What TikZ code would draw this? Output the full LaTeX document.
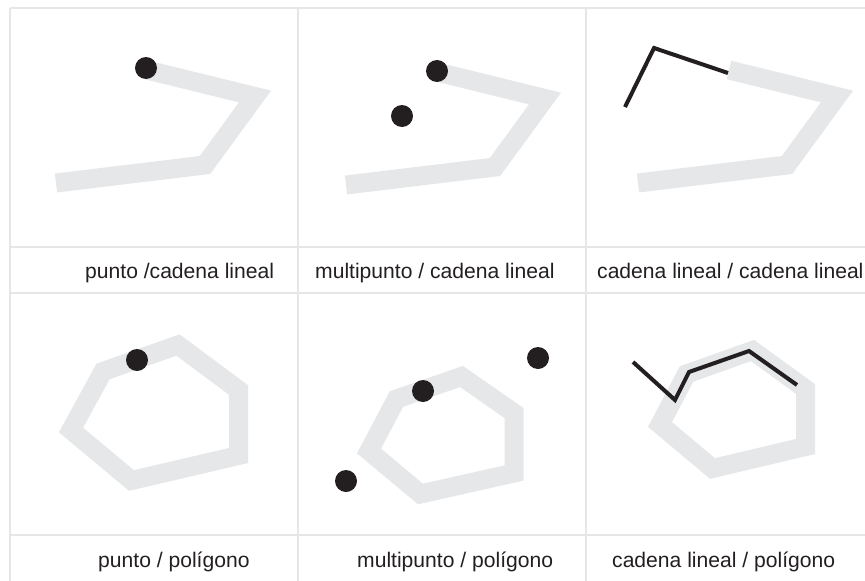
\documentclass[tikz,border=0pt]{standalone}
\usepackage{fontspec}
\setmainfont{Liberation Sans}
\definecolor{gridc}{HTML}{E6E6E6}
\definecolor{bandc}{HTML}{E6E7E8}
\definecolor{inkc}{HTML}{231F20}
\begin{document}
\begin{tikzpicture}[x=1pt,y=-1pt,
  gridline/.style={draw=gridc,line width=2.5pt},
  band/.style={draw=bandc,line width=19pt,miter limit=10,line join=miter},
  blackline/.style={draw=inkc,line width=4pt,line join=miter},
  dot/.style={circle,fill=inkc,inner sep=0pt,minimum size=22pt},
  lbl/.style={anchor=base west,inner sep=0pt,text=inkc,font=\fontsize{21.1}{25}\selectfont}]
\useasboundingbox (0,0) rectangle (865,581);
\fill[white] (0,0) rectangle (865,581);
% grid
\draw[gridline] (10,8) -- (865,8);
\draw[gridline] (10,247) -- (865,247);
\draw[gridline] (10,293) -- (865,293);
\draw[gridline] (10,535) -- (865,535);
\draw[gridline] (10,8) -- (10,581);
\draw[gridline] (298,8) -- (298,581);
\draw[gridline] (586,8) -- (586,581);
% panel 1
\draw[band] (147,70) -- (255,96.5) -- (205,165) -- (56,183);
\node[dot] (p1) at (146,68) {};
% panel 2
\draw[band] (437,72) -- (545,98.5) -- (495,167) -- (346,185);
\node[dot] (m1) at (437,71) {};
\node[dot] (m2) at (402,116) {};
% panel 3
\draw[band] (729,70) -- (837,96.5) -- (787,165) -- (638,183);
\coordinate (c1) at (625,107);
\coordinate (c2) at (654,48);
\coordinate (c3) at (728,73);
\draw[blackline] (c1) -- (c2) -- (c3);
% panel 4
\draw[band] (103,371.5) -- (178,345) -- (238.5,390) -- (238.5,455.5) -- (131.5,480.5) -- (71,430) -- cycle;
\node[dot] (p2) at (137,360) {};
% panel 5
\draw[band] (396.5,399) -- (461.5,376.5) -- (514,413) -- (514,473) -- (420.5,494) -- (369,451) -- cycle;
\node[dot] (m3) at (423,391) {};
\node[dot] (m4) at (538,358) {};
\node[dot] (m5) at (346,481) {};
% panel 6
\draw[band] (686.5,374) -- (752.5,350.5) -- (805.5,389) -- (805.5,446.5) -- (712.5,468.5) -- (660,424.5) -- cycle;
\coordinate (e1) at (633,362);
\coordinate (e2) at (675,400);
\coordinate (e3) at (689,372);
\coordinate (e4) at (749,351);
\coordinate (e5) at (797,385);
\draw[blackline] (e1) -- (e2) -- (e3) -- (e4) -- (e5);
% labels
\node[lbl] (t1) at (85,278) {punto /cadena lineal};
\node[lbl] (t2) at (315,278) {multipunto / cadena lineal};
\node[lbl] (t3) at (597,278) {cadena lineal / cadena lineal};
\node[lbl] (t4) at (98,567) {punto / polígono};
\node[lbl] (t5) at (357,567) {multipunto / polígono};
\node[lbl] (t6) at (612,567) {cadena lineal / polígono};
\end{tikzpicture}
\end{document}
